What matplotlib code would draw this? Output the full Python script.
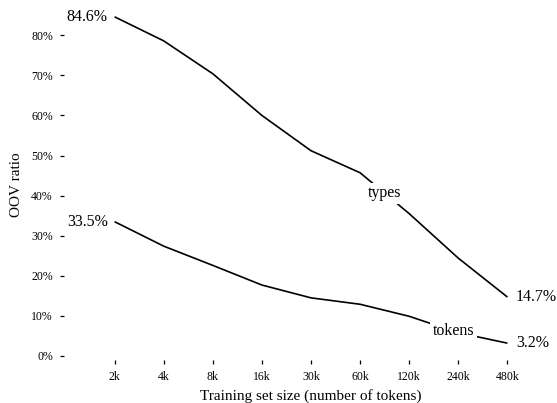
import numpy as np
import matplotlib
matplotlib.use("Agg")
import matplotlib.pyplot as plt

plt.rcParams["font.family"] = ["Liberation Serif", "DejaVu Serif"]

sizes = ["2k", "4k", "8k", "16k", "30k", "60k", "120k", "240k", "480k"]
types_oov = [84.6, 78.6, 70.4, 60.0, 51.2, 45.7, 35.5, 24.4, 14.7]
tokens_oov = [33.5, 27.4, 22.6, 17.7, 14.5, 12.9, 9.9, 5.8, 3.2]
y_ticks = [0, 10, 20, 30, 40, 50, 60, 70, 80]

W, H = 557, 403
fig = plt.figure(figsize=(W / 100, H / 100), dpi=100)
# axes box in pixel units (left, top, right, bottom)
l, t, r, b = 64, 10, 558, 360
ax = fig.add_axes([l / W, (H - b) / H, (r - l) / W, (b - t) / H])

x = np.arange(len(sizes))
lw = 1.2
ax.plot(x, types_oov, color="black", lw=lw, solid_capstyle="butt")
ax.plot(x, tokens_oov, color="black", lw=lw, solid_capstyle="butt")

ax.set_xlim(-1.03, 9.03)
ax.set_ylim(-1.0, 86.3)

for s in ax.spines.values():
    s.set_visible(False)

ax.set_xticks(x)
ax.set_xticklabels(sizes)
ax.set_yticks(y_ticks)
ax.set_yticklabels([f"{v}%" for v in y_ticks])
ax.tick_params(axis="both", direction="out", length=3, width=0.9,
               labelsize=8.5, pad=5)

ax.set_xlabel("Training set size (number of tokens)", fontsize=11, labelpad=4)
ax.set_ylabel("OOV ratio", fontsize=11, labelpad=6)

# end-point value labels
fs = 11.5
for series in (types_oov, tokens_oov):
    ax.annotate(f"{series[0]}%", (x[0], series[0]), xytext=(-5, 0),
                textcoords="offset points", ha="right", va="center",
                fontsize=fs, annotation_clip=False)
    ax.annotate(f"{series[-1]}%", (x[-1], series[-1]), xytext=(6, 0),
                textcoords="offset points", ha="left", va="center",
                fontsize=fs, annotation_clip=False)

# inline series names, breaking the line
for name, series, pos in (("types", types_oov, 5.5), ("tokens", tokens_oov, 6.9)):
    yv = np.interp(pos, x, series)
    ax.text(pos, yv, name, ha="center", va="center", fontsize=fs,
            bbox=dict(boxstyle="square,pad=0.15", fc="white", ec="none"),
            zorder=5)

fig.savefig("out.png", dpi=100)
